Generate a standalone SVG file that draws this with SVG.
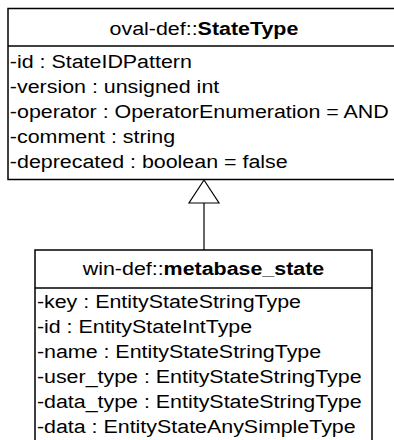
<svg xmlns="http://www.w3.org/2000/svg" width="394" height="440" viewBox="0 0 394 440">
<style>
.box{fill:#fff;stroke:#000;stroke-width:1.5}
.sep{stroke:#000;stroke-width:1.5}
.t{font-family:"Liberation Sans",Arial,sans-serif;font-size:18px;fill:#000}
.c{text-anchor:middle}
.b{font-weight:bold}
.conn{stroke:#000;stroke-width:1.2;fill:none}
.head{fill:#fff;stroke:#000;stroke-width:1.2}
</style>
<g id="StateType">
<rect class="box" x="8" y="8.5" width="400" height="171"/>
<line class="sep" x1="8" y1="46" x2="408" y2="46"/>
<g transform="scale(1.19,1)">
<text class="t c" x="171.4" y="35">oval-def::<tspan class="b">StateType</tspan></text>
<text class="t" x="8.3" y="68">-id : StateIDPattern</text>
<text class="t" x="8.3" y="93">-version : unsigned int</text>
<text class="t" x="8.3" y="118">-operator : OperatorEnumeration = AND</text>
<text class="t" x="8.3" y="143">-comment : string</text>
<text class="t" x="8.3" y="168">-deprecated : boolean = false</text>
</g>
</g>
<g id="metabase_state">
<rect class="box" x="35" y="250" width="337" height="200"/>
<line class="sep" x1="35" y1="288" x2="372" y2="288"/>
<g transform="scale(1.19,1)">
<text class="t c" x="171" y="275">win-def::<tspan class="b">metabase_state</tspan></text>
<text class="t" x="31" y="308">-key : EntityStateStringType</text>
<text class="t" x="31" y="333">-id : EntityStateIntType</text>
<text class="t" x="31" y="358">-name : EntityStateStringType</text>
<text class="t" x="31" y="383">-user_type : EntityStateStringType</text>
<text class="t" x="31" y="408">-data_type : EntityStateStringType</text>
<text class="t" x="31" y="433">-data : EntityStateAnySimpleType</text>
</g>
</g>
<g id="connectors">
<line class="conn" x1="204" y1="203" x2="204" y2="250"/>
<polygon class="head" points="204,180 189,203 219,203"/>
</g>
</svg>
